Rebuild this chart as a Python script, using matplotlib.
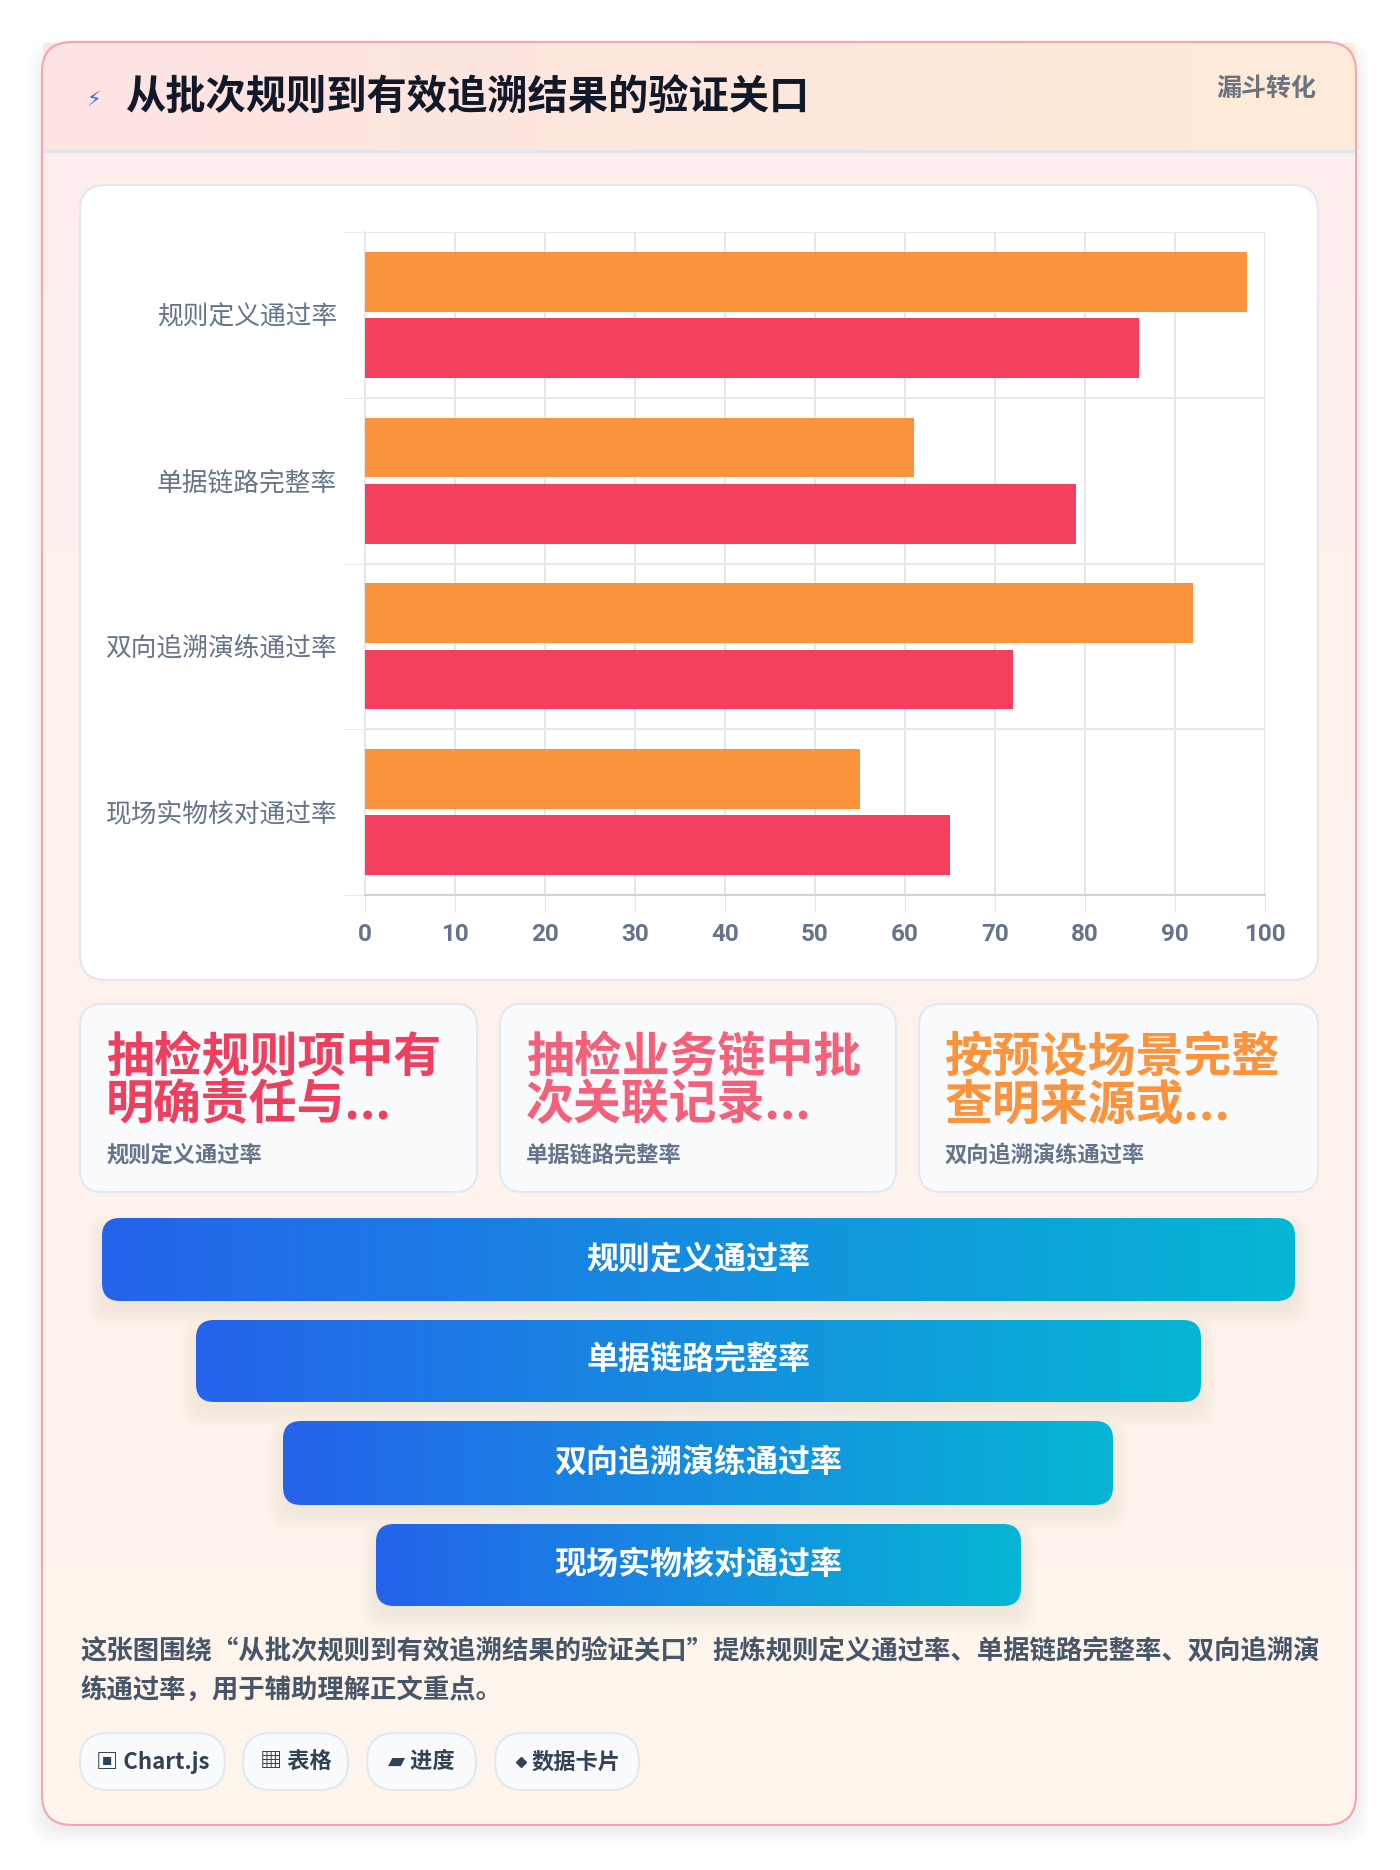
import numpy as np
import matplotlib
matplotlib.use("Agg")
import matplotlib.pyplot as plt
from matplotlib.patches import FancyBboxPatch
from matplotlib.colors import LinearSegmentedColormap

plt.rcParams['font.family'] = ['Noto Sans CJK SC', 'DejaVu Sans']

title = "从批次规则到有效追溯结果的验证关口"
tag = "漏斗转化"
categories = ["规则定义通过率", "单据链路完整率", "双向追溯演练通过率", "现场实物核对通过率"]
orange_vals = [98, 61, 92, 55]
red_vals = [86, 79, 72, 65]
xticks = [0, 10, 20, 30, 40, 50, 60, 70, 80, 90, 100]
card_titles = [["抽检规则项中有", "明确责任与..."], ["抽检业务链中批", "次关联记录..."], ["按预设场景完整", "查明来源或..."]]
card_subs = ["规则定义通过率", "单据链路完整率", "双向追溯演练通过率"]
card_colors = ["#f03e5e", "#f4607a", "#fb923c"]
funnel = categories
note = ["这张图围绕“从批次规则到有效追溯结果的验证关口”提炼规则定义通过率、单据链路完整率、双向追溯演",
        "练通过率，用于辅助理解正文重点。"]
chips = ["▣ Chart.js", "▦ 表格", "▰ 进度", "数据卡片"]

W, H = 1400, 1870
fig = plt.figure(figsize=(W/100, H/100), dpi=100)
bg = fig.add_axes([0, 0, 1, 1])
bg.set_xlim(0, W); bg.set_ylim(H, 0); bg.axis('off')
fig.patch.set_facecolor('white')

def rbox(x0, y0, x1, y1, r, fc, ec='none', lw=1, z=1):
    p = FancyBboxPatch((x0, y0), x1-x0, y1-y0, boxstyle=f"round,pad=0,rounding_size={r}",
                       fc=fc, ec=ec, lw=lw, zorder=z)
    bg.add_patch(p); return p

def grad(x0, y0, x1, y1, r, c0, c1, z=2, vertical=False):
    p = rbox(x0, y0, x1, y1, r, 'none', z=z)
    g = np.linspace(0, 1, 256)
    arr = g[:, None] if vertical else g[None, :]
    cm = LinearSegmentedColormap.from_list('g', [c0, c1])
    im = bg.imshow(arr, cmap=cm, extent=(x0, x1, y1, y0), aspect='auto', zorder=z)
    im.set_clip_path(p)

for i in range(8):
    rbox(42-i*2, 46-i*2+6, 1356+i*2, 1825+i*2+6, 30, (0, 0, 0, 0.008), z=0)
grad(42, 42, 1356, 1825, 30, '#fdeeee', '#fdf5ec', z=1, vertical=True)
rbox(42, 42, 1356, 1825, 30, 'none', ec='#f3a5b0', lw=1.5, z=5)
grad(43, 43, 1355, 151, 4, '#fde3e3', '#fdebd8', z=2)
bg.plot([43, 1355], [151, 151], color='#dde5f0', lw=2, zorder=3)
bg.text(94, 100, "⚡", color='#3b6fe0', fontsize=15, ha='center', va='center', zorder=4, family=['DejaVu Sans'])
bg.text(125, 98, title, fontsize=29, weight='bold', color='#111827', va='center', zorder=4)
bg.text(1316, 89, tag, fontsize=18, weight='bold', color='#6b7280', ha='right', va='center', zorder=4)

rbox(80, 185, 1318, 980, 26, 'white', ec='#e5e7eb', lw=1.5, z=2)
ax = fig.add_axes([365/W, 1-895/H, 900/W, (895-232)/H])
ax.set_zorder(3)
y = np.arange(len(categories))
h = 0.36
ax.barh(y-0.2, orange_vals, height=h, color='#fb923c', zorder=3)
ax.barh(y+0.2, red_vals, height=h, color='#f43f5e', zorder=3)
ax.set_ylim(3.5, -0.5)
ax.set_xlim(0, 100)
ax.set_xticks(xticks)
ax.set_yticks(y)
ax.set_yticklabels(categories, fontsize=18.5, color='#64748b')
ax.set_xticklabels([str(t) for t in xticks], fontsize=17.5, color='#64748b', weight='bold', family=['Roboto', 'DejaVu Sans'])
ax.set_yticks([-0.5, 0.5, 1.5, 2.5, 3.5], minor=True)
ax.grid(axis='x', color='#e5e7eb', lw=1.5, zorder=0)
ax.grid(axis='y', which='minor', color='#e5e7eb', lw=1.5, zorder=0)
ax.tick_params(axis='y', which='major', length=0, pad=20)
ax.tick_params(axis='y', which='minor', length=16, color='#e5e7eb')
ax.tick_params(axis='x', length=12, color='#e5e7eb', pad=8)
for s in ['top', 'right']:
    ax.spines[s].set_visible(False)
ax.spines['left'].set_color('#e5e7eb'); ax.spines['bottom'].set_color('#cbd5e1')
ax.spines['left'].set_linewidth(1.5); ax.spines['bottom'].set_linewidth(1.5)

cx = [(80, 477), (500, 896), (919, 1318)]
for (x0, x1), t, s, c in zip(cx, card_titles, card_subs, card_colors):
    rbox(x0, 1004, x1, 1192, 22, '#f8fafc', ec='#e2e8f0', lw=1.5, z=2)
    bg.text(x0+26, 1057, t[0], fontsize=34.5, weight='bold', color=c, va='center', zorder=4)
    bg.text(x0+26, 1105, t[1], fontsize=34.5, weight='bold', color=c, va='center', zorder=4)
    bg.text(x0+26, 1155, s, fontsize=16, weight='bold', color='#64748b', va='center', zorder=4)

fb = [(102, 1295, 1218, 1301), (196, 1201, 1320, 1402), (283, 1113, 1421, 1505), (376, 1021, 1524, 1606)]
for (x0, x1, y0, y1), lab in zip(fb, funnel):
    for i in range(6):
        rbox(x0-i*3, y0+8-i*2, x1+i*3, y1+10+i*3, 20, (0.6, 0.5, 0.4, 0.015), z=1.5)
    grad(x0, y0, x1, y1, 18, '#2563eb', '#06b6d4', z=3)
    bg.text((x0+x1)/2, (y0+y1)/2, lab, fontsize=23, weight='bold', color='white', ha='center', va='center', zorder=4)

bg.text(80, 1651, note[0], fontsize=19, weight='bold', color='#475569', va='center', zorder=4)
bg.text(80, 1691, note[1], fontsize=19, weight='bold', color='#475569', va='center', zorder=4)

cb = [(80, 225), (243, 348), (367, 476), (495, 639)]
for i, ((x0, x1), c) in enumerate(zip(cb, chips)):
    rbox(x0, 1733, x1, 1790, 28, '#f8fafc', ec='#e2e8f0', lw=1.5, z=2)
    if i == 3:
        bg.plot([521], [1762], marker='D', ms=5, color='#334155', zorder=4)
        bg.text(576, 1762, c, fontsize=16, weight='bold', color='#334155', ha='center', va='center', zorder=4)
    else:
        bg.text((x0+x1)/2, 1762, c, fontsize=16, weight='bold', color='#334155', ha='center', va='center', zorder=4,
                family=['Noto Sans CJK SC', 'DejaVu Sans'])

fig.savefig('out.png', dpi=100)
